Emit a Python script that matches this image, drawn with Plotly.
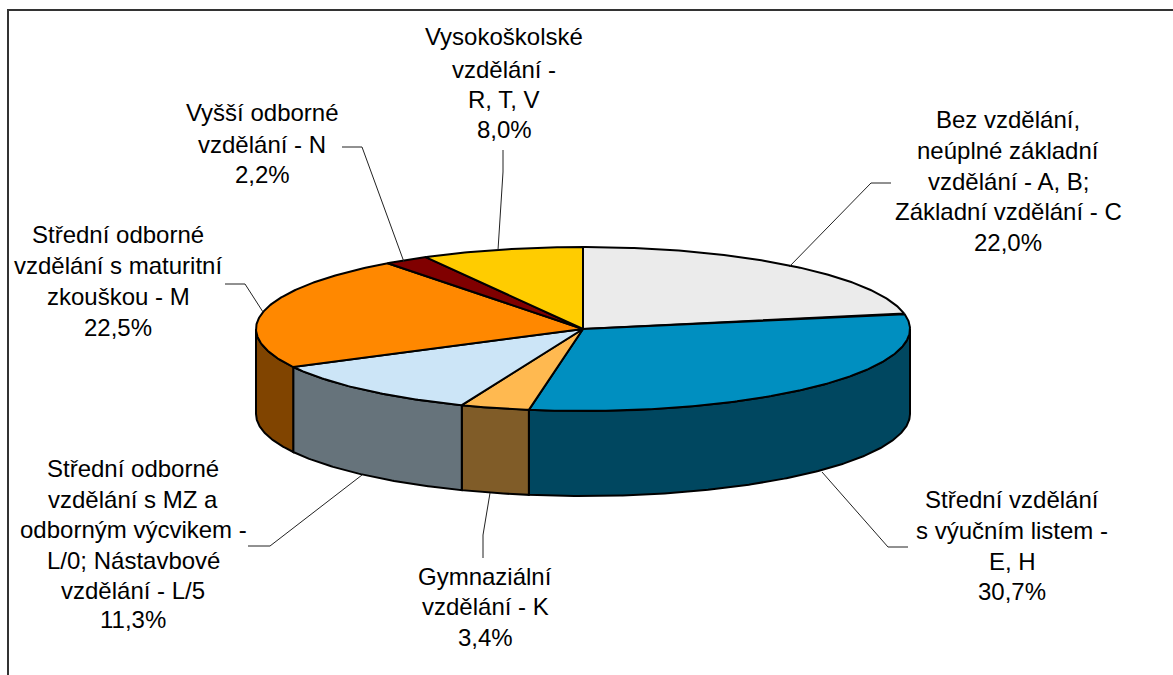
import numpy as np
import plotly.graph_objects as go

# Data, clockwise from the top of the pie
shares = [22.0, 30.7, 3.4, 11.3, 22.5, 2.2, 8.0]
share_labels = ["22,0%", "30,7%", "3,4%", "11,3%", "22,5%", "2,2%", "8,0%"]
category_lines = [
    ["Bez vzdělání,", "neúplné základní", "vzdělání - A, B;", "Základní vzdělání - C"],
    ["Střední vzdělání", "s výučním listem -", "E, H"],
    ["Gymnaziální", "vzdělání - K"],
    ["Střední odborné", "vzdělání s MZ a", "odborným výcvikem -", "L/0; Nástavbové", "vzdělání - L/5"],
    ["Střední odborné", "vzdělání s maturitní", "zkouškou - M"],
    ["Vyšší odborné", "vzdělání - N"],
    ["Vysokoškolské", "vzdělání -", "R, T, V"],
]
top_colors = ["#EBEBEB", "#008FC0", "#FFB950", "#CCE5F7", "#FF8800", "#800000", "#FFCC00"]
side_colors = ["#757575", "#004760", "#805C28", "#66737B", "#804400", "#400000", "#806600"]

# Geometry of the drawing (pixels)
CX, CY, RX, RY, DEPTH = 583, 329, 327, 82, 85
FONT = "Liberation Sans, Arial, sans-serif"
FONT_SIZE = 24

label_centers = [1008, 1012, 485, 133, 118, 262, 504]
label_line_ys = [
    [119, 150, 181, 211, 242],
    [499, 530, 561, 591],
    [576, 606, 637],
    [468, 499, 529, 560, 590, 619],
    [234, 265, 296, 327],
    [112, 144, 174],
    [36, 69, 99, 129],
]
leaders = [
    ([891, 871, 789], [183, 183, 267]),
    ([908, 888, 822], [547, 547, 472]),
    ([483, 483, 490], [558, 535, 493]),
    ([248, 270, 362], [546, 546, 475]),
    ([225, 245, 263], [284, 284, 312]),
    ([342, 362, 404], [147, 147, 262]),
    ([503, 503, 498], [150, 172, 250]),
]


def ellipse(a_deg, b_deg, dy=0.0):
    n = max(2, int(abs(b_deg - a_deg) * 2) + 1)
    t = np.radians(np.linspace(a_deg, b_deg, n))
    return CX + RX * np.sin(t), CY + dy - RY * np.cos(t)


fig = go.Figure()
edges = np.concatenate([[0], np.cumsum(shares)]) / sum(shares) * 360

# Side walls: only the front half (90..270 degrees clockwise from top) shows
for i in range(len(shares)):
    a, b = max(edges[i], 90), min(edges[i + 1], 270)
    if b <= a:
        continue
    xt, yt = ellipse(a, b)
    xb, yb = ellipse(b, a, DEPTH)
    fig.add_trace(go.Scatter(
        x=np.r_[xt, xb, xt[0]], y=np.r_[yt, yb, yt[0]], mode="lines", fill="toself",
        fillcolor=side_colors[i], line=dict(color="black", width=2),
        hoverinfo="skip", showlegend=False))

# Top faces
for i in range(len(shares)):
    xa, ya = ellipse(edges[i], edges[i + 1])
    fig.add_trace(go.Scatter(
        x=np.r_[CX, xa, CX], y=np.r_[CY, ya, CY], mode="lines", fill="toself",
        fillcolor=top_colors[i], line=dict(color="black", width=2),
        hoverinfo="skip", showlegend=False))

# Leader lines
for lx, ly in leaders:
    fig.add_trace(go.Scatter(x=lx, y=ly, mode="lines",
                             line=dict(color="#222222", width=1),
                             hoverinfo="skip", showlegend=False))

# Labels
for i in range(len(shares)):
    for text, y in zip(category_lines[i] + [share_labels[i]], label_line_ys[i]):
        fig.add_annotation(x=label_centers[i], y=y, text=text, showarrow=False,
                           xanchor="center", yanchor="middle",
                           font=dict(family=FONT, size=FONT_SIZE, color="black"))

# Chart-area frame (top and left edges show; the rest runs off the page)
fig.add_shape(type="rect", x0=8, y0=10, x1=1175, y1=680,
              line=dict(color="#333333", width=2), fillcolor="rgba(0,0,0,0)")

fig.update_layout(
    width=1173, height=675, margin=dict(l=0, r=0, t=0, b=0),
    paper_bgcolor="white", plot_bgcolor="white", showlegend=False,
    xaxis=dict(range=[0, 1173], visible=False),
    yaxis=dict(range=[675, 0], visible=False),
)
fig.write_html("out.html", post_script="document.body.style.margin='0';document.body.style.overflow='hidden';",
               config={"displayModeBar": False})
